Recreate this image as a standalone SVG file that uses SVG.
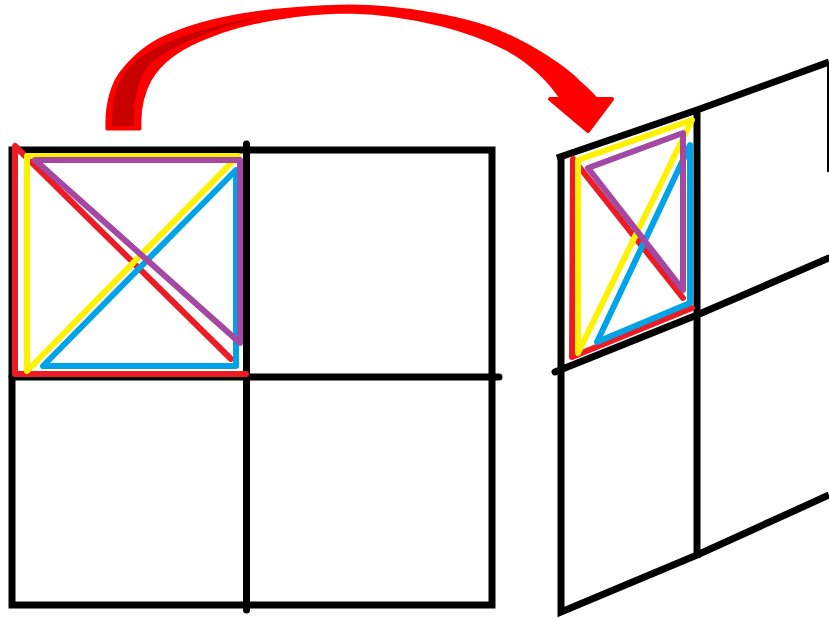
<svg xmlns="http://www.w3.org/2000/svg" width="829" height="618" viewBox="0 0 829 618">
<style>
.grid{fill:none;stroke:#000;stroke-width:7;stroke-linejoin:miter}
.mk{fill:none;stroke-width:6;stroke-linecap:round;stroke-linejoin:round}
.r{stroke:#ED1C24}.y{stroke:#FFF200}.b{stroke:#00A2E8}.p{stroke:#A349A4}
</style>
<rect width="829" height="618" fill="#fff"/>
<g id="left-grid">
<rect class="grid" x="12" y="150" width="480" height="455"/>
<line class="grid" x1="246.5" y1="144" x2="246.5" y2="610" stroke-linecap="round"/>
<line class="grid" x1="12" y1="377" x2="499" y2="377" stroke-linecap="round"/>
</g>
<g id="right-grid">
<polyline class="grid" points="557,158 697,110 829,62"/>
<polyline class="grid" points="561,157 561,612 697,555 829,495"/>
<polyline class="grid" points="555,372 697,315 829,258" stroke-linecap="round"/>
<line class="grid" x1="697" y1="110" x2="697" y2="558"/>
<line x1="828" y1="62" x2="828" y2="172" stroke="#000" stroke-width="2"/>
</g>
<g id="left-marks">
<polyline class="mk r" points="231,359 15,146 15,374 246,374"/>
<polygon class="mk y" points="27,371 27,156 238,156"/>
<polygon class="mk b" points="43,366 236,366 236,170"/>
<polygon class="mk p" points="35,160 240,160 240,343"/>
</g>
<g id="right-marks">
<polyline class="mk r" points="683,298 573,159 572,357 692,308"/>
<polygon class="mk y" points="578,353 578,160 692,120"/>
<polygon class="mk b" points="597,342 690,303 690,145"/>
<polygon class="mk p" points="588,168 683,133 683,290"/>
</g>
<g id="arrow">
<path d="M107,129 C106,105 112,82 124,69 C138,52 155,40 175,33 C215,16 280,7 349,6 C400,6 470,18 504,34 C530,45 565,67 580,83 C588,90 594,96 597,100 L562,100 C552,84 530,60 504,48 C475,33 420,14 349,12 C300,12 245,22 210,36 C180,47 160,62 150,80 C142,95 139,112 140,129 Z" fill="#FF0000" stroke="#FF0000" stroke-width="3" stroke-linejoin="round"/>
<path d="M112,126 C111,100 118,78 132,64 C160,40 210,25 262,17 C215,28 172,45 150,64 C138,78 133,100 134,126 Z" fill="#C80000"/>
<polygon points="550,99 612,99 588,131" fill="#FF0000" stroke="#FF0000" stroke-width="4" stroke-linejoin="round"/>
</g>
</svg>
